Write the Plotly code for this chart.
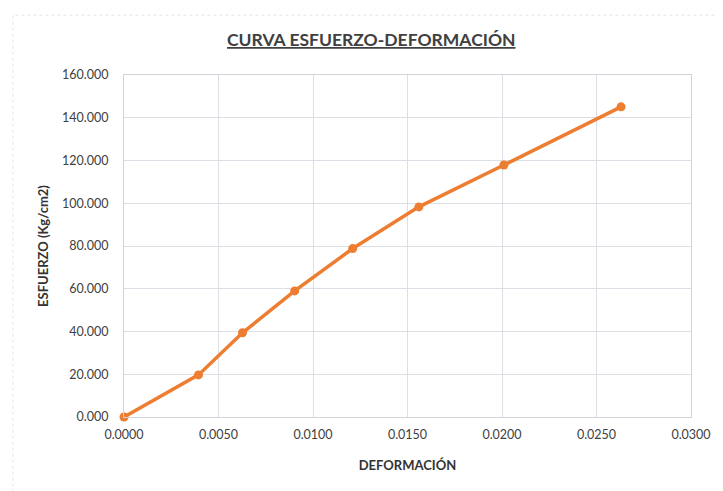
import plotly.graph_objects as go

deformacion = [0.0000, 0.00394, 0.00627, 0.00903, 0.0121, 0.0156, 0.0201, 0.0263]
esfuerzo = [0.000, 19.7, 39.4, 59.0, 78.8, 98.3, 117.9, 145.1]

x_ticks = [0, 0.005, 0.010, 0.015, 0.020, 0.025, 0.030]
y_ticks = [0, 20, 40, 60, 80, 100, 120, 140, 160]

title_text = "CURVA ESFUERZO-DEFORMACIÓN"
x_title = "DEFORMACIÓN"
y_title = "ESFUERZO (Kg/cm2)"

FONT = "Lato"
fig = go.Figure()
fig.add_trace(go.Scatter(
    x=deformacion, y=esfuerzo, mode="lines+markers",
    line=dict(color="#ED7D31", width=3.5),
    marker=dict(color="#ED7D31", size=9),
    showlegend=False, cliponaxis=False,
))

fig.update_layout(
    width=715, height=483,
    margin=dict(l=116, r=28, t=67, b=74),
    paper_bgcolor="white", plot_bgcolor="white",
    font=dict(family=FONT, color="#404040"),
    xaxis=dict(range=[0, 0.030], tickvals=x_ticks, tickformat=".4f",
               showgrid=True, gridcolor="#dcdfe6", gridwidth=1,
               zeroline=False, showline=True, linecolor="#d0d3d9", mirror=True,
               tickfont=dict(size=12.5, color="#404040", family=FONT),
               ticks="outside", ticklen=6, tickcolor="rgba(0,0,0,0)",
               title=dict(text="<b>" + x_title + "</b>", font=dict(size=13, color="#333333"), standoff=19)),
    yaxis=dict(range=[0, 160], tickvals=y_ticks, tickformat=".3f",
               showgrid=True, gridcolor="#dcdfe6", gridwidth=1,
               zeroline=False, showline=True, linecolor="#d0d3d9", mirror=True,
               tickfont=dict(size=12.5, color="#404040", family=FONT),
               ticks="outside", ticklen=12, tickcolor="rgba(0,0,0,0)",
               title=dict(text="<b>" + y_title + "</b>", font=dict(size=13, color="#333333"), standoff=10)),
)

fig.add_annotation(
    text="<b><u>" + title_text + "</u></b>", xref="paper", yref="paper",
    x=0.436, y=1.105, xanchor="center", yanchor="middle", showarrow=False,
    font=dict(size=17.5, color="#404040", family=FONT),
)

fig.add_shape(type="rect", xref="paper", yref="paper",
              x0=-0.196, y0=-0.3, x1=1.2, y1=1.175,
              line=dict(color="#e3e3e3", width=1, dash="dot"), layer="below")

fig.write_html("out.html")
